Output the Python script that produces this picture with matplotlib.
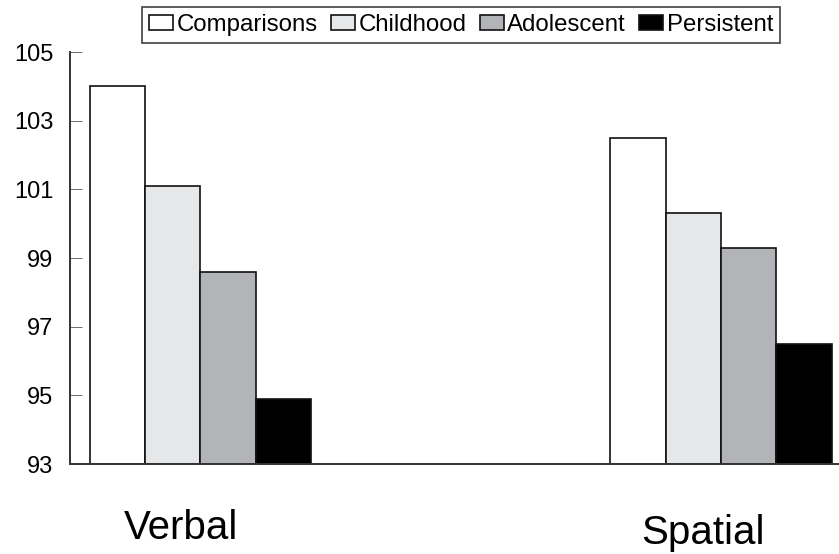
import matplotlib
matplotlib.use("Agg")
import matplotlib.pyplot as plt
import matplotlib.transforms as mtransforms
import numpy as np

plt.rcParams['font.family'] = ['Liberation Sans', 'DejaVu Sans']

categories = ["Verbal", "Spatial"]
groups = ["Comparisons", "Childhood", "Adolescent", "Persistent"]
comparisons = [104.0, 102.5]
childhood = [101.1, 100.3]
adolescent = [98.6, 99.3]
persistent = [94.9, 96.5]
yticks = [93, 95, 97, 99, 101, 103, 105]

series = [comparisons, childhood, adolescent, persistent]
colors = ["#ffffff", "#e6e7e9", "#b3b4b7", "#000000"]

fig = plt.figure(figsize=(8.39, 5.54), dpi=100)
ax = fig.add_axes([70/839, 1-464/554, 1-70/839, (464-52)/554])

w = 0.1062
x = np.arange(len(categories))
for i, (vals, col, lab) in enumerate(zip(series, colors, groups)):
    ax.bar(x + (i - 1.5) * w, np.array(vals) - 93, bottom=93, width=w,
           color=col, edgecolor="#111111", linewidth=1.2, label=lab)

ax.set_ylim(93, 105)
ax.set_xlim(-0.2507, 1.2267)
ax.set_yticks(yticks)
ax.set_yticklabels([str(t) for t in yticks], fontsize=17)
ax.tick_params(axis='y', direction='in', length=8.5, width=0.6, color="#555555", pad=12)
ax.set_xticks([])
for sp in ["top", "right"]:
    ax.spines[sp].set_visible(False)
for sp in ["left", "bottom"]:
    ax.spines[sp].set_linewidth(1.4)
    ax.spines[sp].set_color("#333333")

trans = mtransforms.blended_transform_factory(ax.transData, fig.transFigure)
label_offsets = [(-0.038, 528), (-0.035, 533)]
for xi, cat, (dx, ypx) in zip(x, categories, label_offsets):
    ax.text(xi + dx, 1 - ypx / 554, cat, transform=trans,
            ha='center', va='center', fontsize=29)

leg = fig.legend(loc='upper center', bbox_to_anchor=(461/839, 1 - 7/554), ncol=4,
                 fontsize=17.3, frameon=True, fancybox=False, handlelength=1.0,
                 handleheight=0.55, handletextpad=0.15, columnspacing=0.55,
                 borderpad=0.3, borderaxespad=0)
leg.get_frame().set_edgecolor("#111111")
leg.get_frame().set_linewidth(1.2)

fig.savefig("out.png", dpi=100)
